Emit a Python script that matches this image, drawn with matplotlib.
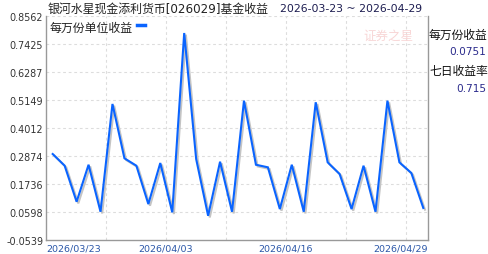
import matplotlib
matplotlib.use('Agg')
import matplotlib.pyplot as plt
import matplotlib.patheffects as pe
from matplotlib.lines import Line2D

plt.rcParams['font.family'] = ['DejaVu Sans', 'Noto Sans CJK SC']

fund_name = '银河水星现金添利货币[026029]基金收益'
date_range = '2026-03-23 ~ 2026-04-29'
legend_label = '每万份单位收益'
x_labels = ['2026/03/23', '2026/04/03', '2026/04/16', '2026/04/29']
y_ticks = [-0.0539, 0.0598, 0.1736, 0.2874, 0.4012, 0.5149, 0.6287, 0.7425, 0.8562]
# 每万份收益, one value per point
income = [0.2947, 0.2471, 0.1005, 0.2511, 0.0598, 0.4983, 0.2772, 0.2471,
          0.0911, 0.2581, 0.0574, 0.7870, 0.2743, 0.0435, 0.2634, 0.0598,
          0.5117, 0.2511, 0.2406, 0.0708, 0.2511, 0.0598, 0.5052, 0.2609,
          0.2133, 0.0708, 0.2471, 0.0598, 0.5117, 0.2609, 0.2173, 0.0751]
side_labels = ['每万份收益', '七日收益率']
side_values = ['0.0751', '0.715']

W, H = 488, 255
fig = plt.figure(figsize=(W / 100, H / 100), dpi=100)
fig.patch.set_facecolor('white')

# plot area in pixels: x 46..428, y 17..240.7
ax = fig.add_axes([46 / W, (H - 240.7) / H, (428 - 46) / W, (240.7 - 17) / H])

x = list(range(len(income)))
step = 11.955  # px per point
x0 = -(52.7 - 46) / step
x1 = x0 + (428 - 46) / step
ax.set_xlim(x0, x1)
ax.set_ylim(y_ticks[0], y_ticks[-1])

# grid
for v in y_ticks[1:]:
    ax.axhline(v, color='#dddddd', lw=0.8, ls=(0, (2.5, 2.5)), zorder=0)
vgrid = [x0 + (x1 - x0) * k * 60 / 382 for k in range(1, 7)]
for g in vgrid:
    ax.axvline(g, color='#dddddd', lw=0.8, ls=(0, (2.5, 2.5)), zorder=0)

ax.plot(x, income, color='#0a64ff', lw=1.5, solid_joinstyle='miter',
        path_effects=[pe.SimpleLineShadow(offset=(1.2, -1.2), shadow_color='#c4c4c4', alpha=1),
                      pe.Normal()], zorder=3)

ax.set_yticks(y_ticks)
ax.set_yticklabels([f'{v:.4f}' for v in y_ticks], fontsize=6.9, color='#333333')
ax.set_xticks([x0, vgrid[1], vgrid[3], x1])
ax.set_xticklabels(x_labels, fontsize=6.8, color='#2a57a8')
xt = ax.get_xticklabels()
xt[0].set_ha('left')
xt[-1].set_ha('right')
ax.tick_params(length=0, pad=2)
ax.tick_params(axis='x', pad=3)

for s in ['left', 'bottom', 'right']:
    ax.spines[s].set_color('#999999')
    ax.spines[s].set_linewidth(1)
ax.spines['top'].set_visible(False)

# title
fig.text(48 / W, 1 - 9 / H, fund_name, fontsize=8.6, color='#222222', va='center', ha='left')
fig.text(280 / W, 1 - 9 / H, date_range, fontsize=7.8, color='#1c1c50', va='center', ha='left')

# legend
fig.text(50 / W, 1 - 28 / H, legend_label, fontsize=8.6, color='#222222', va='center', ha='left')
fig.add_artist(Line2D([137 / W, 145 / W], [1 - 25.7 / H] * 2, color='#0a64ff', lw=2.5,
                      transform=fig.transFigure))

# watermark
fig.text(388 / W, 1 - 36 / H, '证券之星', fontsize=9, color='#f8d6d6',
         va='center', ha='center', family=['Noto Sans CJK SC'])

# right side info
fig.text(429 / W, 1 - 35 / H, side_labels[0], fontsize=8.5, color='#111111', va='center', ha='left')
fig.text(486 / W, 1 - 52.3 / H, side_values[0], fontsize=7.6, color='#2b2b8c', va='center', ha='right')
fig.text(429 / W, 1 - 71.7 / H, side_labels[1], fontsize=8.5, color='#111111', va='center', ha='left')
fig.text(486 / W, 1 - 89 / H, side_values[1], fontsize=7.6, color='#2b2b8c', va='center', ha='right')

fig.savefig('out.png', dpi=100)
